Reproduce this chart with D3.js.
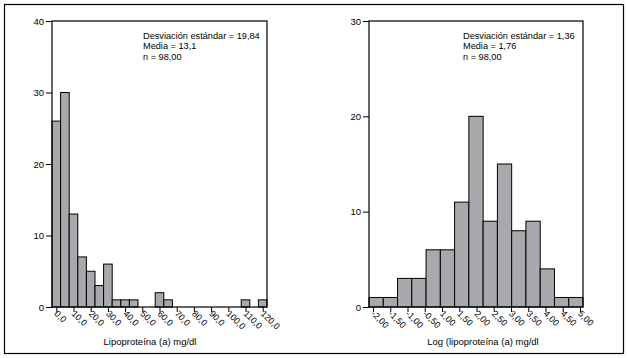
<!DOCTYPE html>
<html>
<head>
<meta charset="utf-8">
<script src="https://cdn.jsdelivr.net/npm/d3@7"></script>
<style>
  body { margin: 0; background: #fff; }
  svg { display: block; font-family: "Liberation Sans", Arial, sans-serif; }
</style>
</head>
<body>
<div id="chart"></div>
<script>
// Left histogram: lipoproteína (a), bins of width 5 centred on these values
const lipoBins = [0, 5, 10, 15, 20, 25, 30, 35, 40, 45, 50, 55, 60, 65, 70, 75, 80, 85, 90, 95, 100, 105, 110, 115, 120];
const lipoCounts = [26, 30, 13, 7, 5, 3, 6, 1, 1, 1, 0, 0, 2, 1, 0, 0, 0, 0, 0, 0, 0, 0, 1, 0, 1];
const lipoTicks = [0, 10, 20, 30, 40, 50, 60, 70, 80, 90, 100, 110, 120];
const lipoYTicks = [0, 10, 20, 30, 40];
const lipoStats = ["Desviación estándar = 19,84", "Media = 13,1", "n = 98,00"];

// Right histogram: log (lipoproteína (a)), bins of width 0.5
const logBins = [-2, -1.5, -1, -0.5, 0, 0.5, 1, 1.5, 2, 2.5, 3, 3.5, 4, 4.5, 5];
const logCounts = [1, 1, 3, 3, 6, 6, 11, 20, 9, 15, 8, 9, 4, 1, 1];
const logTickLabels = ["-2,00", "-1,50", "-1,00", "-0,50", "1,00", "1,50", "2,00", "2,50", "3,00", "3,50", "4,00", "4,50", "5,00"];
const logYTicks = [0, 10, 20, 30];
const logStats = ["Desviación estándar = 1,36", "Media = 1,76", "n = 98,00"];

const width = 627;
const height = 358;
const plotTop = 21;
const plotBottom = 307;
const barFill = "#a8a9ad";

const svg = d3.select("#chart").append("svg")
  .attr("width", width)
  .attr("height", height)
  .attr("viewBox", [0, 0, width, height]);

// Outer frame
svg.append("rect")
  .attr("x", 4.5).attr("y", 4.5)
  .attr("width", 619).attr("height", 349)
  .attr("fill", "none").attr("stroke", "#000").attr("stroke-width", 1.2);

function histogram(opts) {
  const { left, right, bins, counts, binWidth, yMax, yTicks, stats, statsX, title, titleX } = opts;

  const x = d3.scaleLinear([bins[0] - binWidth / 2, bins[bins.length - 1] + binWidth / 2], [left, right]);
  const y = d3.scaleLinear([0, yMax], [plotBottom, plotTop]);

  const g = svg.append("g");

  // Bars (skip empty bins)
  g.append("g")
    .selectAll("rect")
    .data(bins.map((b, i) => ({ b, n: counts[i] })).filter(d => d.n > 0))
    .join("rect")
      .attr("x", d => x(d.b - binWidth / 2))
      .attr("y", d => y(d.n))
      .attr("width", d => x(d.b + binWidth / 2) - x(d.b - binWidth / 2))
      .attr("height", d => y(0) - y(d.n))
      .attr("fill", barFill)
      .attr("stroke", "#000")
      .attr("stroke-width", 1);

  // Plot frame
  g.append("rect")
    .attr("x", left).attr("y", plotTop)
    .attr("width", right - left).attr("height", plotBottom - plotTop)
    .attr("fill", "none").attr("stroke", "#000").attr("stroke-width", 1.2);

  // Y axis
  g.append("g")
    .attr("transform", `translate(${left},0)`)
    .call(d3.axisLeft(y).tickValues(yTicks).tickSize(6).tickPadding(2))
    .call(a => a.select(".domain").remove())
    .call(a => a.selectAll("text").attr("font-size", 9.5).attr("fill", "#000"))
    .call(a => a.selectAll("line").attr("stroke", "#000"));

  // Stats text
  g.append("text")
    .attr("x", statsX)
    .attr("y", 39)
    .attr("font-size", 9.2)
    .selectAll("tspan")
    .data(stats)
    .join("tspan")
      .attr("x", statsX)
      .attr("dy", (d, i) => i === 0 ? 0 : 10.3)
      .text(d => d);

  // X title
  g.append("text")
    .attr("x", titleX)
    .attr("y", 345)
    .attr("text-anchor", "middle")
    .attr("font-size", 9.5)
    .text(title);

  return { g, x };
}

function styleXAxis(a) {
  a.select(".domain").remove();
  a.selectAll("line").attr("stroke", "#000");
  a.selectAll("text")
    .attr("font-size", 9)
    .attr("fill", "#000")
    .attr("text-anchor", "start")
    .attr("transform", "rotate(45)")
    .attr("x", 3)
    .attr("y", 4)
    .attr("dy", "0.35em");
}

// Left chart
const L = histogram({
  left: 52, right: 267,
  bins: lipoBins, counts: lipoCounts, binWidth: 5,
  yMax: 40, yTicks: lipoYTicks,
  stats: lipoStats, statsX: 143,
  title: "Lipoproteína (a) mg/dl", titleX: 150
});
L.g.append("g")
  .attr("transform", `translate(0,${plotBottom})`)
  .call(d3.axisBottom(L.x).tickValues(lipoTicks).tickSize(5)
    .tickFormat(d => d.toFixed(1).replace(".", ",")))
  .call(styleXAxis);

// Right chart
const R = histogram({
  left: 369, right: 583,
  bins: logBins, counts: logCounts, binWidth: 0.5,
  yMax: 30, yTicks: logYTicks,
  stats: logStats, statsX: 463,
  title: "Log (lipoproteína (a) mg/dl", titleX: 483
});
const xLabels = d3.scalePoint(logTickLabels, [373, 580]);
R.g.append("g")
  .attr("transform", `translate(0,${plotBottom})`)
  .call(d3.axisBottom(xLabels).tickSize(5))
  .call(styleXAxis);
</script>
</body>
</html>
